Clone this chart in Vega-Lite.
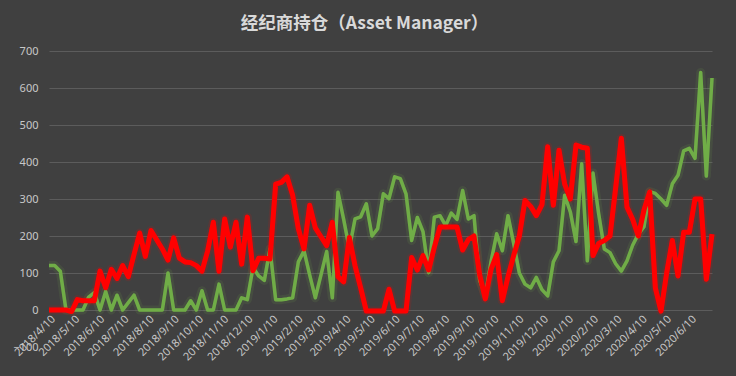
{
  "$schema": "https://vega.github.io/schema/vega-lite/v6.json",
  "width": 663,
  "height": 296,
  "autosize": {"type": "none"},
  "padding": {"left": 49, "top": 51, "right": 24, "bottom": 29},
  "background": "#404040",
  "config": {"view": {"stroke": null}, "font": "Noto Sans"},
  "title": {"text": "经纪商持仓（Asset Manager）", "font": "Noto Sans CJK SC", "fontSize": 17.5, "fontWeight": "bold", "color": "#d9d9d9", "anchor": "middle", "offset": 13, "dx": -16},
  "data": {"values": [
    {"d": "2018/04/10", "g": 120, "r": 0},
    {"d": "2018/04/17", "g": 120, "r": 0},
    {"d": "2018/04/24", "g": 105, "r": 0},
    {"d": "2018/05/01", "g": 0, "r": 0},
    {"d": "2018/05/08", "g": 0, "r": -4},
    {"d": "2018/05/15", "g": 0, "r": 28},
    {"d": "2018/05/22", "g": 0, "r": 25},
    {"d": "2018/05/29", "g": 35, "r": 25},
    {"d": "2018/06/05", "g": 47, "r": 25},
    {"d": "2018/06/12", "g": 0, "r": 105},
    {"d": "2018/06/19", "g": 50, "r": 60},
    {"d": "2018/06/26", "g": 0, "r": 110},
    {"d": "2018/07/03", "g": 40, "r": 85},
    {"d": "2018/07/10", "g": 0, "r": 120},
    {"d": "2018/07/17", "g": 20, "r": 90},
    {"d": "2018/07/24", "g": 40, "r": 150},
    {"d": "2018/07/31", "g": 0, "r": 208},
    {"d": "2018/08/07", "g": 0, "r": 145},
    {"d": "2018/08/14", "g": 0, "r": 215},
    {"d": "2018/08/21", "g": 0, "r": 190},
    {"d": "2018/08/28", "g": 0, "r": 165},
    {"d": "2018/09/04", "g": 100, "r": 135},
    {"d": "2018/09/11", "g": 0, "r": 195},
    {"d": "2018/09/18", "g": 0, "r": 140},
    {"d": "2018/09/25", "g": 0, "r": 130},
    {"d": "2018/10/02", "g": 25, "r": 128},
    {"d": "2018/10/09", "g": 0, "r": 120},
    {"d": "2018/10/16", "g": 52, "r": 105},
    {"d": "2018/10/23", "g": 0, "r": 160},
    {"d": "2018/10/30", "g": 0, "r": 237},
    {"d": "2018/11/06", "g": 70, "r": 105},
    {"d": "2018/11/13", "g": 0, "r": 246},
    {"d": "2018/11/20", "g": 0, "r": 170},
    {"d": "2018/11/27", "g": 0, "r": 237},
    {"d": "2018/12/04", "g": 33, "r": 124},
    {"d": "2018/12/11", "g": 28, "r": 251},
    {"d": "2018/12/18", "g": 115, "r": 106},
    {"d": "2018/12/25", "g": 92, "r": 140},
    {"d": "2019/01/01", "g": 80, "r": 140},
    {"d": "2019/01/08", "g": 165, "r": 138},
    {"d": "2019/01/15", "g": 28, "r": 340},
    {"d": "2019/01/22", "g": 28, "r": 345},
    {"d": "2019/01/29", "g": 30, "r": 360},
    {"d": "2019/02/05", "g": 33, "r": 310},
    {"d": "2019/02/12", "g": 130, "r": 220},
    {"d": "2019/02/19", "g": 160, "r": 165},
    {"d": "2019/02/26", "g": 95, "r": 283},
    {"d": "2019/03/05", "g": 33, "r": 222},
    {"d": "2019/03/12", "g": 95, "r": 198},
    {"d": "2019/03/19", "g": 158, "r": 174},
    {"d": "2019/03/26", "g": 33, "r": 237},
    {"d": "2019/04/02", "g": 318, "r": 90},
    {"d": "2019/04/09", "g": 245, "r": 76},
    {"d": "2019/04/16", "g": 165, "r": 196},
    {"d": "2019/04/23", "g": 246, "r": 120},
    {"d": "2019/04/30", "g": 252, "r": 60},
    {"d": "2019/05/07", "g": 287, "r": -3},
    {"d": "2019/05/14", "g": 200, "r": -3},
    {"d": "2019/05/21", "g": 220, "r": -3},
    {"d": "2019/05/28", "g": 314, "r": -3},
    {"d": "2019/06/04", "g": 301, "r": 56},
    {"d": "2019/06/11", "g": 360, "r": -3},
    {"d": "2019/06/18", "g": 355, "r": -3},
    {"d": "2019/06/25", "g": 314, "r": -3},
    {"d": "2019/07/02", "g": 188, "r": 142},
    {"d": "2019/07/09", "g": 250, "r": 108},
    {"d": "2019/07/16", "g": 212, "r": 147},
    {"d": "2019/07/23", "g": 101, "r": 108},
    {"d": "2019/07/30", "g": 251, "r": 170},
    {"d": "2019/08/06", "g": 255, "r": 224},
    {"d": "2019/08/13", "g": 228, "r": 224},
    {"d": "2019/08/20", "g": 262, "r": 224},
    {"d": "2019/08/27", "g": 245, "r": 224},
    {"d": "2019/09/03", "g": 323, "r": 162},
    {"d": "2019/09/10", "g": 246, "r": 190},
    {"d": "2019/09/17", "g": 255, "r": 200},
    {"d": "2019/09/24", "g": 80, "r": 95},
    {"d": "2019/10/01", "g": 40, "r": 30},
    {"d": "2019/10/08", "g": 130, "r": 110},
    {"d": "2019/10/15", "g": 206, "r": 150},
    {"d": "2019/10/22", "g": 160, "r": 25},
    {"d": "2019/10/29", "g": 255, "r": 90},
    {"d": "2019/11/05", "g": 180, "r": 147},
    {"d": "2019/11/12", "g": 100, "r": 200},
    {"d": "2019/11/19", "g": 70, "r": 296},
    {"d": "2019/11/26", "g": 60, "r": 280},
    {"d": "2019/12/03", "g": 88, "r": 255},
    {"d": "2019/12/10", "g": 55, "r": 285},
    {"d": "2019/12/17", "g": 38, "r": 441},
    {"d": "2019/12/24", "g": 130, "r": 283},
    {"d": "2019/12/31", "g": 160, "r": 432},
    {"d": "2020/01/07", "g": 310, "r": 340},
    {"d": "2020/01/14", "g": 265, "r": 300},
    {"d": "2020/01/21", "g": 185, "r": 446},
    {"d": "2020/01/28", "g": 395, "r": 440},
    {"d": "2020/02/04", "g": 133, "r": 437},
    {"d": "2020/02/11", "g": 370, "r": 147},
    {"d": "2020/02/18", "g": 260, "r": 180},
    {"d": "2020/02/25", "g": 165, "r": 188},
    {"d": "2020/03/03", "g": 155, "r": 200},
    {"d": "2020/03/10", "g": 125, "r": 330},
    {"d": "2020/03/17", "g": 105, "r": 464},
    {"d": "2020/03/24", "g": 133, "r": 278},
    {"d": "2020/03/31", "g": 175, "r": 245},
    {"d": "2020/04/07", "g": 205, "r": 200},
    {"d": "2020/04/14", "g": 225, "r": 270},
    {"d": "2020/04/21", "g": 320, "r": 319},
    {"d": "2020/04/28", "g": 315, "r": 60},
    {"d": "2020/05/05", "g": 300, "r": -3},
    {"d": "2020/05/12", "g": 283, "r": 100},
    {"d": "2020/05/19", "g": 341, "r": 188},
    {"d": "2020/05/26", "g": 364, "r": 92},
    {"d": "2020/06/02", "g": 430, "r": 210},
    {"d": "2020/06/09", "g": 437, "r": 210},
    {"d": "2020/06/16", "g": 410, "r": 300},
    {"d": "2020/06/23", "g": 642, "r": 300},
    {"d": "2020/06/30", "g": 362, "r": 83},
    {"d": "2020/07/07", "g": 627, "r": 205}
  ]},
  "transform": [{"fold": ["g", "r"], "as": ["k", "v"]}],
  "encoding": {
    "x": {
      "field": "d", "type": "temporal", "title": null,
      "scale": {"domain": [{"year": 2018, "month": 4, "date": 10}, {"year": 2020, "month": 7, "date": 7}]},
      "axis": {
        "offset": -37, "domain": false, "ticks": false, "grid": false,
        "labelAngle": -45, "labelColor": "#c8c8c8", "labelFontSize": 11, "labelPadding": 3,
        "format": "%Y/%-m/%-d", "labelOverlap": false,
        "values": [
          {"year": 2018, "month": 4, "date": 10}, {"year": 2018, "month": 5, "date": 10}, {"year": 2018, "month": 6, "date": 10},
          {"year": 2018, "month": 7, "date": 10}, {"year": 2018, "month": 8, "date": 10}, {"year": 2018, "month": 9, "date": 10},
          {"year": 2018, "month": 10, "date": 10}, {"year": 2018, "month": 11, "date": 10}, {"year": 2018, "month": 12, "date": 10},
          {"year": 2019, "month": 1, "date": 10}, {"year": 2019, "month": 2, "date": 10}, {"year": 2019, "month": 3, "date": 10},
          {"year": 2019, "month": 4, "date": 10}, {"year": 2019, "month": 5, "date": 10}, {"year": 2019, "month": 6, "date": 10},
          {"year": 2019, "month": 7, "date": 10}, {"year": 2019, "month": 8, "date": 10}, {"year": 2019, "month": 9, "date": 10},
          {"year": 2019, "month": 10, "date": 10}, {"year": 2019, "month": 11, "date": 10}, {"year": 2019, "month": 12, "date": 10},
          {"year": 2020, "month": 1, "date": 10}, {"year": 2020, "month": 2, "date": 10}, {"year": 2020, "month": 3, "date": 10},
          {"year": 2020, "month": 4, "date": 10}, {"year": 2020, "month": 5, "date": 10}, {"year": 2020, "month": 6, "date": 10}
        ]
      }
    },
    "y": {
      "field": "v", "type": "quantitative", "title": null,
      "scale": {"domain": [-100, 700], "nice": false, "zero": false},
      "axis": {"values": [-100, 0, 100, 200, 300, 400, 500, 600, 700], "tickCount": 9, "domain": false, "ticks": false, "grid": true,
        "gridColor": "#5c5c5c", "gridWidth": 1, "labelOverlap": false,
        "gridOpacity": {"condition": {"test": "datum.value < 0", "value": 0}, "value": 1},
        "labelColor": "#c8c8c8", "labelFontSize": 11, "labelPadding": 11}
    },
    "color": {"field": "k", "type": "nominal", "legend": null, "scale": {"domain": ["g", "r"], "range": ["#70AD47", "#FF0000"]}}
  },
  "layer": [
    {
      "mark": {"type": "line", "strokeWidth": 9, "opacity": 0.12, "strokeJoin": "round"}
    },
    {
      "mark": {"type": "line", "opacity": 0.2, "strokeJoin": "round"},
      "encoding": {"strokeWidth": {"field": "k", "type": "nominal", "legend": null, "scale": {"domain": ["g", "r"], "range": [3.5, 5]}}}
    },
    {
      "mark": {"type": "line", "strokeJoin": "round"},
      "encoding": {"strokeWidth": {"field": "k", "type": "nominal", "legend": null, "scale": {"domain": ["g", "r"], "range": [2, 2.75]}}}
    }
  ]
}
